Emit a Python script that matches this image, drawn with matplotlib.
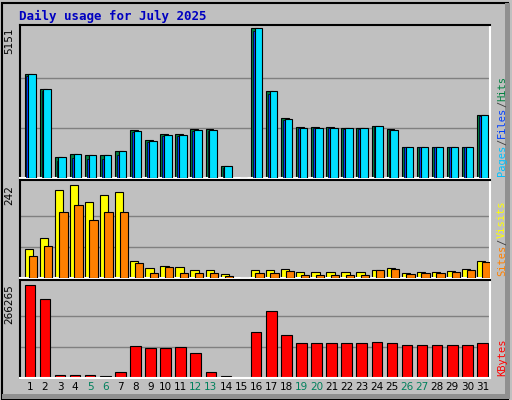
import matplotlib
matplotlib.use("Agg")
import matplotlib.pyplot as plt
from matplotlib.patches import Rectangle

days = list(range(1, 32))
hits = [3585,3063,731,835,800,800,940,1636,1288,1497,1497,1670,1670,418,0,5151,2993,2053,1740,1740,1740,1705,1705,1775,1670,1079,1079,1079,1079,1079,2158]
files = [3500,2980,600,700,660,660,800,1580,1230,1450,1450,1620,1620,330,0,5050,2900,2000,1700,1700,1700,1670,1670,1740,1640,1050,1050,1050,1050,1050,2120]
pages = [3560,3040,720,820,790,790,930,1620,1280,1490,1490,1660,1660,410,0,5140,2980,2040,1730,1730,1730,1700,1700,1770,1660,1070,1070,1070,1070,1070,2150]
visits = [76,103,229,242,197,216,224,45,26,32,29,21,21,10,0,21,21,24,16,16,16,16,16,21,26,13,16,16,18,24,45]
sites = [58,84,171,189,150,171,171,39,13,29,13,13,13,5,0,13,13,18,8,8,8,8,8,21,24,11,13,13,16,21,42]
kbytes = [266265,225000,8800,8800,8800,6000,17500,90700,85000,85000,88000,70000,17500,6000,0,131600,190000,123000,99500,99500,99500,99500,99500,102000,99500,94000,94000,94000,94000,94000,99500]
weekends = [5,6,12,13,19,20,26,27]

W, H = 512, 400
fig = plt.figure(figsize=(W/100, H/100), dpi=100, facecolor='#C0C0C0')
fig.patches.append(Rectangle((0.003,0.003),0.99,0.99,transform=fig.transFigure,fill=False,ec='black',lw=1.5))
fig.patches.append(Rectangle((0.986,0.003),0.011,0.99,transform=fig.transFigure,fc='#909090',ec='none'))
fig.patches.append(Rectangle((0.003,0.003),0.99,0.012,transform=fig.transFigure,fc='#909090',ec='none'))
fig.text(19/W, 1-16/H, "Daily usage for July 2025", color='#0000C0', fontsize=9,
         fontweight='bold', family='DejaVu Sans Mono', va='center')

def mkax(top, bot):
    ax = fig.add_axes([20/W, 1-bot/H, 470/W, (bot-top)/H], facecolor='#C0C0C0')
    ax.set_xlim(0.45, 31.6)
    ax.set_xticks([]); ax.set_yticks([])
    for s in ['top','left']: ax.spines[s].set_color('black')
    for s in ['bottom','right']: ax.spines[s].set_color('white')
    for sp in ax.spines.values(): sp.set_linewidth(1.5)
    return ax

def grid(ax, m):
    for f in (1/3, 2/3):
        ax.axhline(m*f, color='#808080', lw=1, zorder=0)

ec = 'black'
x = days
ax1 = mkax(25, 178)
m1 = max(hits); ax1.set_ylim(0, m1*1.02); grid(ax1, m1)
ax1.bar([d-0.25 for d in x], hits, width=0.5, color='#008040', ec=ec, lw=0.8, align='edge', zorder=2)
ax1.bar([d-0.12 for d in x], files, width=0.25, color='#0040FF', ec=ec, lw=0.5, align='edge', zorder=3)
ax1.bar([d+0.0 for d in x], pages, width=0.5, color='#00E0FF', ec=ec, lw=0.8, align='edge', zorder=4)

ax2 = mkax(180, 278)
m2 = max(visits); ax2.set_ylim(0, m2*1.05); grid(ax2, m2)
ax2.bar([d-0.25 for d in x], visits, width=0.55, color='#FFFF00', ec=ec, lw=0.8, align='edge', zorder=2)
ax2.bar([d+0.05 for d in x], sites, width=0.55, color='#FF8000', ec=ec, lw=0.8, align='edge', zorder=3)

ax3 = mkax(280, 378)
m3 = max(kbytes); ax3.set_ylim(0, m3*1.05); grid(ax3, m3)
ax3.bar([d-0.25 for d in x], kbytes, width=0.7, color='#FF0000', ec=ec, lw=0.8, align='edge', zorder=2)

for d in days:
    ax3.text(d+0.1, -0.09, str(d), transform=ax3.get_xaxis_transform(), ha='center', va='center',
             fontsize=7.5, color='#00805C' if d in weekends else 'black')

for ax, m, label in [(ax1, m1, "5151"), (ax2, m2, "242"), (ax3, m3, "266265")]:
    ax.text(-0.012, m/ax.get_ylim()[1], label, transform=ax.transAxes, rotation=90,
            ha='right', va='top', fontsize=7.5)

renderer = fig.canvas.get_renderer()
def rlabel(ax, parts):
    ypix = ax.get_window_extent().y0 + 2
    xpix = ax.get_window_extent().x1 + 12
    for txt, col in parts:
        t = fig.text(xpix/W, ypix/H, txt, rotation=90, ha='center', va='bottom',
                     color=col, fontsize=7.5, family='DejaVu Sans Mono')
        ypix += t.get_window_extent(renderer).height
rlabel(ax1, [("Pages", '#00C0FF'), ("/", '#404040'), ("Files", '#0040FF'), ("/", '#404040'), ("Hits", '#008040')])
rlabel(ax2, [("Sites", '#FF8000'), ("/", '#404040'), ("Visits", '#FFFF00')])
rlabel(ax3, [("KBytes", '#FF0000')])

fig.savefig("out.png", dpi=100, facecolor=fig.get_facecolor())
